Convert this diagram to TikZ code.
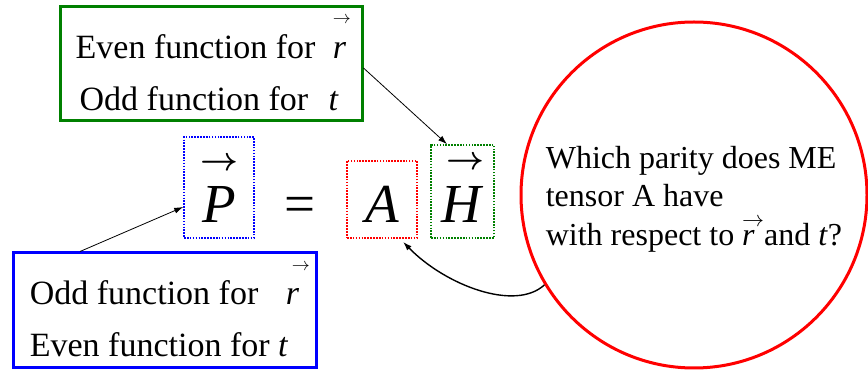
\documentclass[tikz,border=0pt]{standalone}
\usepackage{amsmath}
\usepackage{graphicx}
\usepackage{fontspec}
\setmainfont{Liberation Serif}
\usetikzlibrary{arrows.meta}
\definecolor{dgreen}{RGB}{0,128,0}
\newcommand\svec[4]{\leavevmode\rlap{\hspace{#3}\raisebox{#2}{\scalebox{#4}{\normalsize$\rightarrow$}}}\textit{#1}}
\newcommand\bvec[3]{\leavevmode\setbox0\hbox{\textit{#1}}\rlap{\hbox to \wd0{\hss\hspace{#3}\raisebox{#2}{\scalebox{3.3}{\normalsize$\boldsymbol{\rightarrow}$}}\hss}}\box0}
\begin{document}
\begin{tikzpicture}[x=1pt,y=-1pt,
  conn/.style={-{Latex[length=9pt,width=6pt]}, line width=0.8pt},
  bigbox/.style={draw, line width=3pt, inner sep=0pt, align=left,
    font=\fontsize{34}{52}\selectfont, minimum width=302pt, minimum height=114pt},
  dotbox/.style={draw, dash pattern=on 1.6pt off 1.3pt, line width=1.6pt,
    inner sep=0pt, anchor=base, text depth=15pt, font=\fontsize{55}{55}\selectfont},
]
\useasboundingbox (0,0) rectangle (868,371);
\node[bigbox, draw=dgreen] (gbox) at (211,64)
  {Even function for\hspace{9pt} \svec{r}{34.5pt}{0pt}{1.8}\\\hspace{4pt}Odd function for\hspace{12pt} \textit{t}};
\node[bigbox, draw=blue, minimum width=303pt, minimum height=115pt] (bbox) at (164.5,310.5)
  {Odd function for\hspace{19pt} \svec{r}{33.5pt}{6pt}{1.8}\\Even function for \textit{t}};
\node[dotbox, draw=blue, text height=86pt, minimum width=70pt] (pdot) at (219,223) {\bvec{P}{52.75pt}{0pt}};
\node[font=\fontsize{55}{55}\selectfont, anchor=base, inner sep=0pt] (eq) at (300,223) {=};
\node[dotbox, draw=red, text height=62pt, minimum width=70pt] (adot) at (382,223) {\textit{A}};
\node[dotbox, draw=dgreen, text height=78pt, minimum width=63pt] (hdot) at (462.5,223) {\bvec{H}{53.75pt}{5pt}};
\node[circle, draw=red, line width=3pt, minimum size=346pt, inner sep=0pt, align=left,
  font=\fontsize{32}{38.5}\selectfont] (circ) at (694,195)
  {\rule{0pt}{30pt}Which parity does ME\\tensor A have\\with respect to \rlap{\textit{r}}\raisebox{18.5pt}{\scalebox{2.2}{\normalsize$\rightarrow$}}and \textit{t}?};
\draw[conn] ([yshift=-4pt]gbox.east) -- ([xshift=-15.5pt]hdot.north);
\draw[conn] ([xshift=-84.5pt]bbox.north) -- ([yshift=-19.5pt]pdot.west);
\draw[conn, line width=1.4pt] (circ.211.6) .. controls (515,312) and (445,285) .. ([xshift=21pt,yshift=-3pt]adot.south);
\end{tikzpicture}
\end{document}
